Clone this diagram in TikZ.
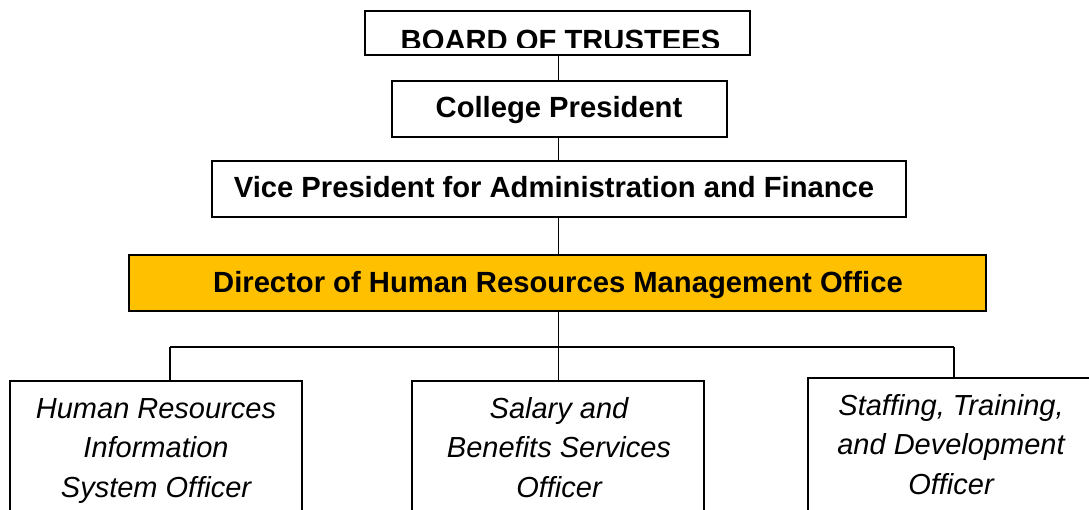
\documentclass[tikz,border=0pt]{standalone}
\usepackage{fontspec}
\setmainfont{Liberation Sans}
\definecolor{gold}{HTML}{FFC000}
\begin{document}
\begin{tikzpicture}[x=1pt,y=-1pt,
  box/.style={draw=black,line width=1.9pt,fill=white,inner sep=0pt},
  btxt/.style={font=\fontsize{29.2}{35}\selectfont\bfseries,inner sep=0pt},
  itxt/.style={font=\fontsize{29}{39.5}\selectfont\itshape,align=center,inner sep=0pt},
  conn/.style={line width=1.9pt}]
\useasboundingbox (0,0) rectangle (1089,510);
\clip (0,0) rectangle (1089,510);
% boxes
\node[box,minimum width=385,minimum height=44] (board) at (557.5,33) {};
\begin{scope}
\clip (365,11) rectangle (750,48);
\node[btxt,anchor=base] (boardt) at (560.5,51) {BOARD OF TRUSTEES};
\end{scope}
\node[box,minimum width=335,minimum height=56] (pres) at (559.5,109) {};
\node[btxt,anchor=base] (prest) at (559,118) {College President};
\node[box,minimum width=694,minimum height=56] (vp) at (559,189) {};
\node[btxt,anchor=base] (vpt) at (554,198) {Vice President for Administration and Finance};
\node[box,fill=gold,minimum width=857,minimum height=56] (dir) at (557.5,283) {};
\node[btxt,anchor=base] (dirt) at (558,293) {Director of Human Resources Management Office};
\node[box,minimum width=292,minimum height=160,anchor=north] (hris) at (156,380) {};
\node[itxt,anchor=base] (hrist) at (156,497) {Human Resources\\Information\\System Officer};
\node[box,minimum width=292,minimum height=160,anchor=north] (sal) at (558,380) {};
\node[itxt,anchor=base] (salt) at (559,497) {Salary and\\Benefits Services\\Officer};
\node[box,minimum width=288,minimum height=160,anchor=north] (std) at (952,377) {};
\node[itxt,anchor=base] (stdt) at (951,494) {Staffing, Training,\\and Development\\Officer};
% connectors
\coordinate (busL) at (170,347);
\coordinate (busR) at (954,347);
\coordinate (spine) at (558.5,0);
\draw[conn] (spine |- board.south) -- (spine |- pres.north);
\draw[conn] (spine |- pres.south) -- (spine |- vp.north);
\draw[conn] (spine |- vp.south) -- (spine |- dir.north);
\draw[conn] (spine |- dir.south) -- (spine |- sal.north);
\draw[conn] (busL) -- (busR);
\draw[conn] (busL) -- (busL |- hris.north);
\draw[conn] (busR) -- (busR |- std.north);
\end{tikzpicture}
\end{document}
